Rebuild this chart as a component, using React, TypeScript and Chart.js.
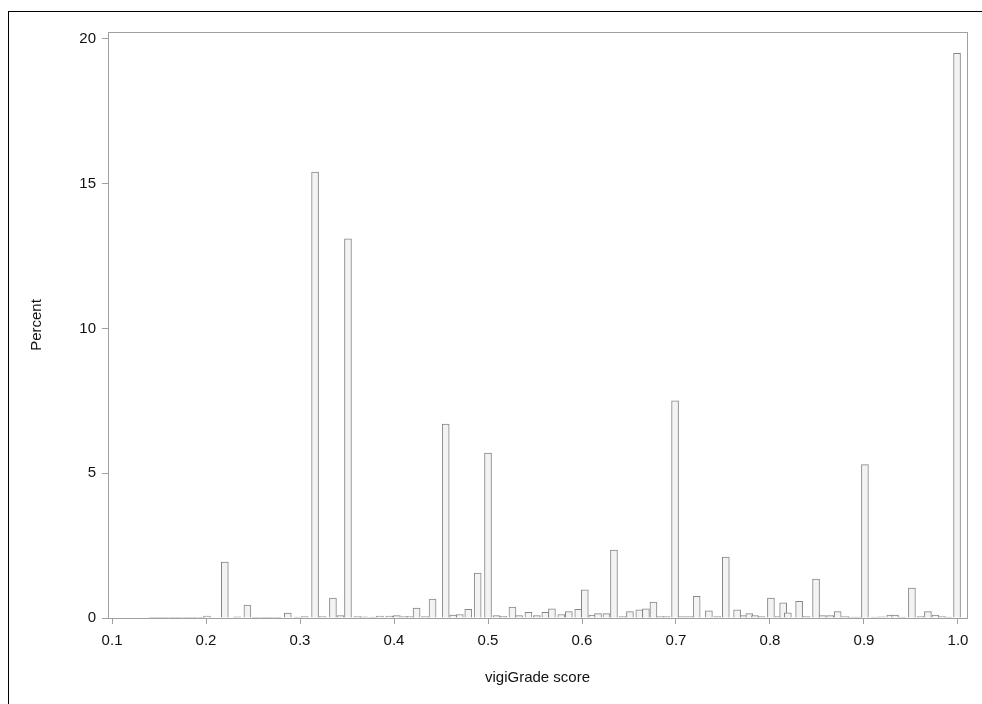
import React, { useEffect, useRef } from "react";
import { Chart, registerables } from "chart.js";

Chart.register(...registerables);

const scores = [
  0.143, 0.150, 0.157, 0.165, 0.172, 0.180, 0.187, 0.195, 0.201, 0.220,
  0.233, 0.244, 0.253, 0.261, 0.268, 0.276, 0.287, 0.297, 0.305, 0.316,
  0.324, 0.335, 0.343, 0.351, 0.361, 0.368, 0.377, 0.385, 0.395, 0.403,
  0.411, 0.417, 0.424, 0.433, 0.441, 0.455, 0.463, 0.470, 0.479, 0.489,
  0.500, 0.509, 0.516, 0.526, 0.533, 0.543, 0.552, 0.561, 0.568, 0.578,
  0.586, 0.596, 0.603, 0.611, 0.617, 0.626, 0.634, 0.643, 0.651, 0.661,
  0.668, 0.676, 0.683, 0.690, 0.699, 0.706, 0.714, 0.722, 0.735, 0.744,
  0.753, 0.765, 0.772, 0.778, 0.784, 0.791, 0.801, 0.809, 0.814, 0.819,
  0.831, 0.839, 0.849, 0.856, 0.864, 0.872, 0.880, 0.887, 0.894, 0.901,
  0.911, 0.919, 0.928, 0.933, 0.941, 0.951, 0.960, 0.968, 0.976, 0.983,
  0.990, 0.999,
];

const percents = [
  0.02, 0.02, 0.02, 0.02, 0.02, 0.02, 0.02, 0.02, 0.07, 1.93,
  0.04, 0.45, 0.02, 0.02, 0.02, 0.02, 0.17, 0.03, 0.05, 15.4,
  0.05, 0.69, 0.08, 13.1, 0.05, 0.04, 0.03, 0.07, 0.07, 0.08,
  0.05, 0.05, 0.34, 0.05, 0.65, 6.7, 0.1, 0.12, 0.3, 1.55,
  5.7, 0.08, 0.06, 0.38, 0.08, 0.2, 0.08, 0.2, 0.32, 0.12,
  0.22, 0.3, 0.97, 0.1, 0.15, 0.15, 2.35, 0.05, 0.22, 0.28,
  0.32, 0.55, 0.05, 0.05, 7.5, 0.05, 0.05, 0.75, 0.25, 0.05,
  2.1, 0.28, 0.08, 0.15, 0.08, 0.05, 0.69, 0.05, 0.52, 0.18,
  0.58, 0.05, 1.34, 0.08, 0.08, 0.22, 0.05, 0.03, 0.03, 5.3,
  0.03, 0.04, 0.1, 0.1, 0.03, 1.03, 0.05, 0.22, 0.1, 0.05,
  0.03, 19.5,
];

const xTicks = [0.1, 0.2, 0.3, 0.4, 0.5, 0.6, 0.7, 0.8, 0.9, 1.0];
const yTicks = [0, 5, 10, 15, 20];

const xTitle = "vigiGrade score";
const yTitle = "Percent";

const frameColor = "#a0a0a0";

const framePlugin = {
  id: "frameBox",
  afterDatasetsDraw(chart: any) {
    const { ctx, chartArea } = chart;
    ctx.save();
    ctx.strokeStyle = frameColor;
    ctx.lineWidth = 1;
    ctx.strokeRect(
      Math.round(chartArea.left) + 0.5,
      Math.round(chartArea.top) + 0.5,
      Math.round(chartArea.right - chartArea.left),
      Math.round(chartArea.bottom - chartArea.top)
    );
    ctx.restore();
  },
};

export default function App() {
  const canvasRef = useRef<HTMLCanvasElement | null>(null);

  useEffect(() => {
    if (!canvasRef.current) return;
    const font = { family: "'Liberation Sans', Arial, sans-serif", size: 15 };
    const chart = new Chart(canvasRef.current, {
      type: "bar",
      data: {
        datasets: [
          {
            data: scores.map((s, i) => ({ x: s, y: percents[i] })),
            backgroundColor: "#f3f3f3",
            borderColor: "#868686",
            borderWidth: 1,
            barThickness: 7,
            borderSkipped: "bottom",
          },
        ],
      },
      options: {
        animation: false,
        responsive: false,
        maintainAspectRatio: false,
        layout: { padding: { left: 24, top: 32, right: 15, bottom: 13 } },
        plugins: {
          legend: { display: false },
          tooltip: { enabled: false },
        },
        scales: {
          x: {
            type: "linear",
            min: 0.0957,
            max: 1.0096,
            offset: false,
            afterBuildTicks: (scale: any) => {
              scale.ticks = xTicks.map((v) => ({ value: v }));
            },
            afterFit: (scale: any) => {
              scale.height = 704 - 13 - 618;
            },
            ticks: {
              color: "#111",
              font,
              padding: 8,
              autoSkip: false,
              maxRotation: 0,
              callback: (v: any) => Number(v).toFixed(1),
            },
            grid: {
              display: true,
              offset: false,
              drawOnChartArea: false,
              drawTicks: true,
              tickLength: 6,
              color: frameColor,
            },
            border: { display: true, color: frameColor },
            title: {
              display: true,
              text: xTitle,
              color: "#111",
              font,
              padding: { top: 4, bottom: 4 },
            },
          },
          y: {
            type: "linear",
            min: 0,
            max: 20.24,
            afterBuildTicks: (scale: any) => {
              scale.ticks = yTicks.map((v) => ({ value: v }));
            },
            afterFit: (scale: any) => {
              scale.width = 108 - 24;
            },
            ticks: {
              color: "#111",
              font,
              padding: 6,
              callback: (v: any) => String(v),
            },
            grid: {
              display: true,
              drawOnChartArea: false,
              drawTicks: true,
              tickLength: 6,
              color: frameColor,
            },
            border: { display: true, color: frameColor },
            title: {
              display: true,
              text: yTitle,
              color: "#111",
              font,
              padding: { top: 4, bottom: 4 },
            },
          },
        },
      },
      plugins: [framePlugin],
    });
    return () => chart.destroy();
  }, []);

  return (
    <div
      style={{
        position: "fixed",
        left: 0,
        top: 0,
        width: 982,
        height: 704,
        background: "#fff",
        overflow: "hidden",
      }}
    >
      <div
        style={{
          position: "absolute",
          left: 8,
          top: 11,
          width: 1000,
          height: 720,
          border: "1px solid #000",
          boxSizing: "border-box",
        }}
      />
      <canvas
        ref={canvasRef}
        width={982}
        height={704}
        style={{ position: "absolute", left: 0, top: 0, width: 982, height: 704 }}
      />
    </div>
  );
}
